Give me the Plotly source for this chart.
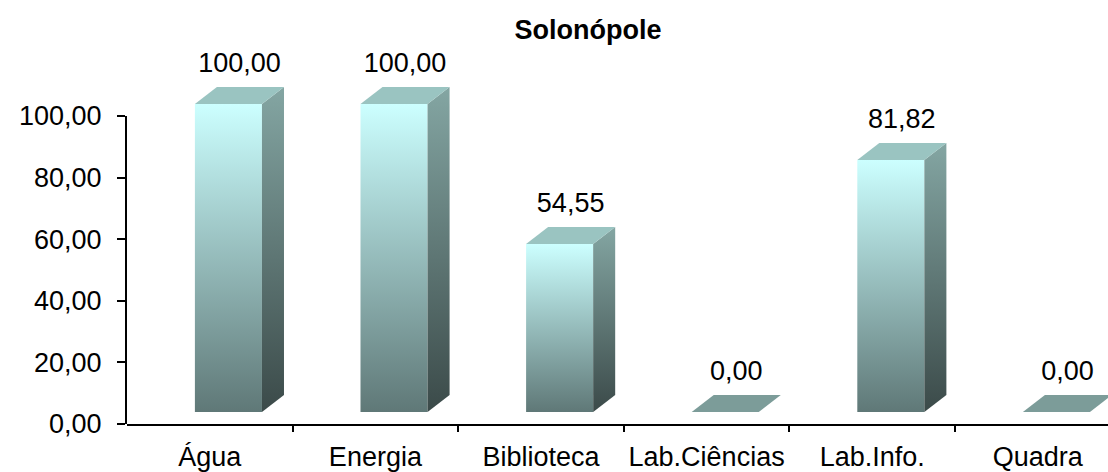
import plotly.graph_objects as go

# ---- data ----
categories = ["Água", "Energia", "Biblioteca", "Lab.Ciências", "Lab.Info.", "Quadra"]
values = [100.00, 100.00, 54.55, 0.00, 81.82, 0.00]
title_text = "Solonópole"
y_tick_values = [0, 20, 40, 60, 80, 100]

# ---- style constants (3D look) ----
FRONT_LEFT = -0.09      # front face left edge, relative to category centre (x units)
FRONT_W = 0.405         # front face width (x units)
DEPTH_X = 0.133         # depth offset to the right (x units)
DEPTH_Y = 5.5           # depth offset upwards (y units)
FLOOR_Y = 3.9           # lift of bar bottoms above axis 0 (y units)
LABEL_GAP = 7.2         # gap between bar back-top and value label centre (y units)

FRONT_SCALE = [[0, "#5F7877"], [1, "#CCFFFF"]]
SIDE_SCALE = [[0, "#3B4A49"], [1, "#84A6A3"]]
TOP_COLOR = "#9AC4C1"
ZERO_TOP_COLOR = "#7C9C99"
FONT = "Liberation Sans, Arial, sans-serif"
FS = 27

fig = go.Figure()

label_x, label_y, label_t = [], [], []
for i, v in enumerate(values):
    x0 = i + FRONT_LEFT
    x1 = x0 + FRONT_W
    yb = FLOOR_Y
    yt = FLOOR_Y + v
    if v > 0:
        # front face
        fig.add_trace(go.Scatter(
            x=[x0, x1, x1, x0, x0], y=[yb, yb, yt, yt, yb],
            mode="lines", fill="toself",
            line=dict(width=0, color="rgba(0,0,0,0)"),
            fillgradient=dict(type="vertical", colorscale=FRONT_SCALE),
            hoverinfo="skip", showlegend=False))
        # side face
        fig.add_trace(go.Scatter(
            x=[x1, x1 + DEPTH_X, x1 + DEPTH_X, x1, x1],
            y=[yb, yb + DEPTH_Y, yt + DEPTH_Y, yt, yb],
            mode="lines", fill="toself",
            line=dict(width=0, color="rgba(0,0,0,0)"),
            fillgradient=dict(type="vertical", colorscale=SIDE_SCALE),
            hoverinfo="skip", showlegend=False))
    # top face
    fig.add_trace(go.Scatter(
        x=[x0, x1, x1 + DEPTH_X, x0 + DEPTH_X, x0],
        y=[yt, yt, yt + DEPTH_Y, yt + DEPTH_Y, yt],
        mode="lines", fill="toself",
        line=dict(width=0, color="rgba(0,0,0,0)"),
        fillcolor=TOP_COLOR if v > 0 else ZERO_TOP_COLOR,
        hoverinfo="skip", showlegend=False))
    label_x.append(x0 + (FRONT_W + DEPTH_X) / 2)
    label_y.append(yt + DEPTH_Y + LABEL_GAP)
    label_t.append(f"{v:.2f}".replace(".", ","))

fig.add_trace(go.Scatter(
    x=label_x, y=label_y, text=label_t, mode="text",
    textposition="middle center", cliponaxis=False,
    textfont=dict(family=FONT, size=FS, color="black"),
    hoverinfo="skip", showlegend=False))

# invisible anchors for the boundary-tick x axis and the visible value axis
fig.add_trace(go.Scatter(x=[0], y=[0], xaxis="x2", mode="markers",
                         marker=dict(opacity=0), hoverinfo="skip", showlegend=False))
fig.add_trace(go.Scatter(x=[0], y=[0], yaxis="y2", mode="markers",
                         marker=dict(opacity=0), hoverinfo="skip", showlegend=False))

W, H = 1108, 472
L, R, T, B = 127, 0, 20, 48
plot_w = W - L - R
plot_h = H - T - B
px_per_cat = 165.6
px_per_unit = 3.08
x_range = [-0.5, -0.5 + plot_w / px_per_cat]
y_draw_top = plot_h / px_per_unit
axis_frac = 100 * px_per_unit / plot_h

fig.update_layout(
    width=W, height=H,
    margin=dict(l=L, r=R, t=T, b=B, pad=0, autoexpand=False),
    paper_bgcolor="white", plot_bgcolor="rgba(0,0,0,0)",
    separators=",.",
    font=dict(family=FONT, size=FS, color="black"),
    title=dict(text=f"<b>{title_text}</b>", x=588 / W, xanchor="center",
               y=1 - 30 / H, yanchor="middle",
               font=dict(family=FONT, size=FS, color="black")),
    xaxis=dict(range=x_range, tickvals=list(range(len(categories))), ticktext=categories,
               ticks="", showline=True, linecolor="black", linewidth=2,
               showgrid=False, zeroline=False, fixedrange=True,
               ticklabelstandoff=8,
               tickfont=dict(family=FONT, size=FS, color="black")),
    xaxis2=dict(range=x_range, overlaying="x", side="bottom", anchor="y",
                tickvals=[k + 0.5 for k in range(len(categories) - 1)],
                ticks="outside", ticklen=7, tickwidth=2, tickcolor="black",
                showticklabels=False, showline=False, showgrid=False, zeroline=False),
    yaxis=dict(range=[0, y_draw_top], domain=[0, 1], visible=False,
               showgrid=False, zeroline=False, fixedrange=True),
    yaxis2=dict(range=[0, 100], domain=[0, axis_frac], anchor="x", side="left",
                tickvals=y_tick_values, tickformat=".2f",
                ticks="outside", ticklen=8, tickwidth=1.5, tickcolor="black",
                showline=True, linecolor="black", linewidth=2,
                showgrid=False, zeroline=False, ticklabelstandoff=10,
                tickfont=dict(family=FONT, size=FS, color="black")),
)

fig.write_html("out.html", config={"displayModeBar": False},
               post_script="document.body.style.margin='0';")
